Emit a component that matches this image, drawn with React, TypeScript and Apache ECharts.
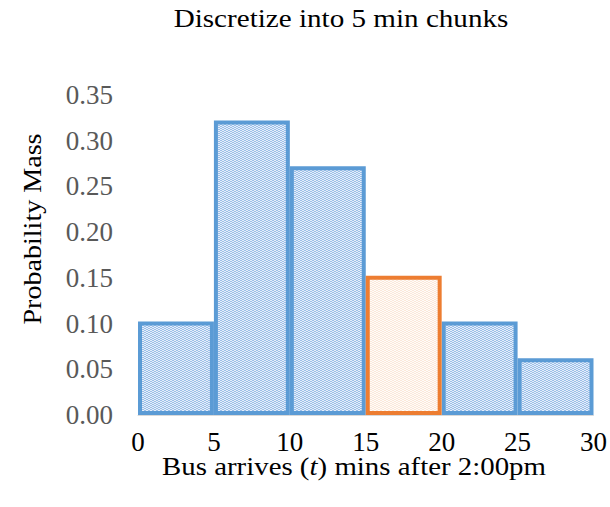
import React, { useEffect, useRef } from "react";
import * as echarts from "echarts";

const binStarts = [0, 5, 10, 15, 20, 25];
const binWidth = 5;
const masses = [0.1, 0.32, 0.27, 0.15, 0.1, 0.06];
const highlighted = [false, false, false, true, false, false];
const title = "Discretize into 5 min chunks";
const yName = "Probability Mass";

function makePattern(bg: string, dot: string): HTMLCanvasElement {
  const c = document.createElement("canvas");
  c.width = 4;
  c.height = 4;
  const ctx = c.getContext("2d")!;
  ctx.fillStyle = bg;
  ctx.fillRect(0, 0, 4, 4);
  ctx.fillStyle = dot;
  const cells = [
    [0, 0], [1, 0], [2, 1], [3, 1], [1, 2], [0, 2], [3, 3], [2, 3],
  ];
  cells.forEach(([x, y]) => ctx.fillRect(x, y, 1, 1));
  return c;
}

const serif = "Liberation Serif";

export default function App() {
  const ref = useRef<HTMLDivElement>(null);
  useEffect(() => {
    const chart = echarts.init(ref.current!, undefined, { renderer: "svg" });
    const bluePat = makePattern("#e4eef9", "#9dbfe9");
    const orangePat = makePattern("#fffbf8", "#fbe8da");
    const data = binStarts.map((s, i) => [s, s + binWidth, masses[i], highlighted[i] ? 1 : 0]);
    chart.setOption({
      animation: false,
      backgroundColor: "#ffffff",
      grid: { left: 138, right: 8, top: 95, bottom: 92 },
      xAxis: {
        type: "value",
        min: 0,
        max: 30,
        interval: 5,
        axisLine: { show: true, lineStyle: { color: "#d9d9d9", width: 1 } },
        axisTick: { show: false },
        splitLine: { show: false },
        axisLabel: { fontFamily: serif, fontSize: 27, color: "#000", margin: 13 },
      },
      yAxis: {
        type: "value",
        min: 0,
        max: 0.35,
        interval: 0.05,
        axisLine: { show: false },
        axisTick: { show: false },
        splitLine: { show: false },
        axisLabel: {
          fontFamily: serif,
          fontSize: 27,
          color: "#595959",
          margin: 25,
          formatter: (v: number) => v.toFixed(2),
        },
      },
      graphic: [
        {
          type: "text",
          x: 341,
          y: 18,
          scaleX: 1.12,
          style: {
            text: title,
            fontFamily: serif,
            fontSize: 26,
            fill: "#000",
            align: "center",
            verticalAlign: "middle",
          },
        },
        {
          type: "text",
          x: 354,
          y: 466,
          scaleX: 1.11,
          style: {
            text: "{a|Bus arrives (}{i|t}{a|) mins after 2:00pm}",
            align: "center",
            verticalAlign: "middle",
            rich: {
              a: { fontFamily: serif, fontSize: 26, fill: "#000" },
              i: { fontFamily: serif, fontSize: 26, fontStyle: "italic", fill: "#000" },
            },
          },
        },
        {
          type: "text",
          x: 32,
          y: 229,
          rotation: Math.PI / 2,
          scaleX: 1.08,
          style: {
            text: yName,
            fontFamily: serif,
            fontSize: 26,
            fill: "#000",
            align: "center",
            verticalAlign: "middle",
          },
        },
      ] as any,
      series: [
        {
          type: "custom",
          data,
          encode: { x: [0, 1], y: 2 },
          renderItem: (params: any, api: any) => {
            const x0 = api.value(0);
            const x1 = api.value(1);
            const y = api.value(2);
            const hl = api.value(3) === 1;
            const p0 = api.coord([x0, 0]);
            const p1 = api.coord([x1, y]);
            const lw = 4;
            return {
              type: "rect",
              z2: hl ? 10 : 1,
              shape: {
                x: p0[0] + lw / 2,
                y: p1[1],
                width: p1[0] - p0[0] - lw,
                height: p0[1] - p1[1] - lw / 2,
              },
              style: {
                fill: { image: hl ? orangePat : bluePat, repeat: "repeat" },
                stroke: hl ? "#ed7d31" : "#5b9bd5",
                lineWidth: lw,
              },
            };
          },
        },
      ],
    });
    return () => chart.dispose();
  }, []);
  return (
    <div
      ref={ref}
      style={{ position: "absolute", left: 0, top: 0, width: 610, height: 507 }}
    />
  );
}
